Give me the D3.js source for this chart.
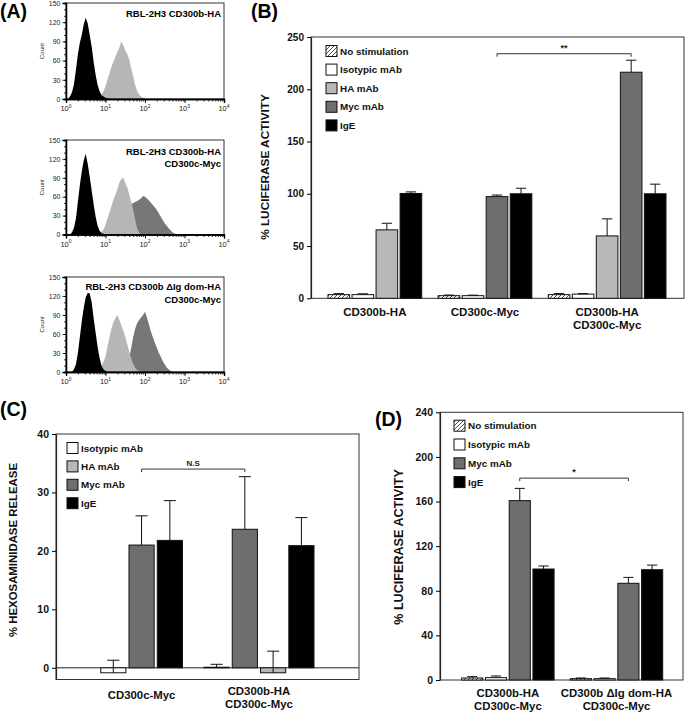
<!DOCTYPE html>
<html><head><meta charset="utf-8">
<script src="https://cdn.jsdelivr.net/npm/d3@7"></script>
<style>body{margin:0;background:#fff}svg{display:block}text{font-family:"Liberation Sans",Arial,Helvetica,sans-serif}</style>
</head><body><svg id="c" width="685" height="713"></svg>
<script>
// ---------------- DATA ----------------
// Panel A: flow cytometry histograms  [fluorescence, count]
const histTicks = [1, 10, 100, 1000, 10000];
const countTicks = [0, 30, 60, 90, 120, 150];
const h1Labels = ["RBL-2H3 CD300b-HA"];
const h2Labels = ["RBL-2H3 CD300b-HA", "CD300c-Myc"];
const h3Labels = ["RBL-2H3 CD300b \u0394Ig dom-HA", "CD300c-Myc"];

const h1Iso = [[1.12,0],[1.26,4],[1.41,10],[1.58,22],[1.78,45],[2.0,70],[2.24,88],[2.51,100],[2.82,117],[3.16,127],[3.55,118],[3.98,100],[4.47,82],[5.01,58],[5.62,38],[6.31,22],[7.08,12],[7.94,6],[8.91,4],[10,2],[11.2,1],[12.6,0]];
const h1HA = [[5.62,0],[6.31,2],[7.08,4],[7.94,7],[8.91,12],[10,20],[11.2,30],[12.6,40],[14.1,50],[15.8,58],[17.8,66],[20,74],[22.4,80],[25.1,90],[28.2,84],[31.6,76],[35.5,70],[39.8,62],[44.7,48],[50.1,36],[56.2,22],[63.1,13],[70.8,7],[79.4,4],[89.1,2],[100,1],[112,0]];

const h2Iso = [[1.26,0],[1.41,3],[1.58,10],[1.78,25],[2.0,52],[2.24,78],[2.51,100],[2.82,118],[3.16,128],[3.55,112],[3.98,92],[4.47,70],[5.01,48],[5.62,28],[6.31,14],[7.08,6],[7.94,2],[8.91,1],[10,0]];
const h2HA = [[6.31,0],[7.08,2],[7.94,4],[8.91,8],[10,15],[11.2,25],[12.6,35],[14.1,45],[15.8,55],[17.8,63],[20,72],[22.4,82],[25.1,88],[28.2,90],[31.6,82],[35.5,75],[39.8,64],[44.7,52],[50.1,40],[56.2,24],[63.1,10],[70.8,3],[79.4,0]];
const h2Myc = [[5.62,0],[6.31,2],[7.94,4],[10,8],[12.6,14],[15.8,20],[20,27],[25.1,34],[31.6,41],[39.8,46],[50.1,50],[63.1,53],[79.4,57],[89.1,61],[100,60],[112,57],[126,54],[158,47],[200,39],[251,28],[316,18],[398,10],[501,3],[631,0]];

const h3Iso = [[1.41,0],[1.58,4],[1.78,12],[2.0,30],[2.24,55],[2.51,80],[2.82,102],[3.16,118],[3.55,125],[3.98,124],[4.47,110],[5.01,85],[5.62,62],[6.31,40],[7.08,22],[7.94,10],[8.91,4],[10,2],[11.2,0]];
const h3HA = [[3.16,0],[3.98,2],[5.01,3],[6.31,5],[7.94,10],[8.91,16],[10,24],[11.2,40],[12.6,55],[14.1,68],[15.8,78],[17.8,85],[20,90],[22.4,82],[25.1,74],[28.2,65],[31.6,56],[35.5,44],[39.8,32],[44.7,22],[50.1,13],[56.2,7],[63.1,3],[70.8,1],[79.4,0]];
const h3Myc = [[8.91,0],[10,2],[14.1,3],[20,4],[25.1,6],[31.6,10],[35.5,15],[39.8,22],[44.7,38],[50.1,55],[56.2,68],[63.1,77],[70.8,82],[79.4,86],[89.1,90],[100,95],[112,86],[126,75],[141,64],[158,55],[178,46],[200,38],[224,30],[251,24],[282,17],[316,12],[355,7],[398,4],[447,2],[501,0]];

// Bar series
const seriesNames = ["No stimulation", "Isotypic mAb", "HA mAb", "Myc mAb", "IgE"];

// Panel B
const bCategories = [["CD300b-HA"], ["CD300c-Myc"], ["CD300b-HA", "CD300c-Myc"]];
const bNoStim = [3.5, 2.5, 3.5],   bNoStimErr = [1.0, 0.6, 1.0];
const bIso    = [3.5, 2.5, 4.0],   bIsoErr    = [0.8, 0.5, 0.5];
const bHA     = [65.5, null, 59.7], bHAErr    = [6.3, null, 16.3];
const bMyc    = [null, 97.3, 216.3], bMycErr  = [null, 1.5, 11.5];
const bIgE    = [100.3, 100, 100], bIgEErr    = [1.5, 5.3, 9.2];
const bTicks = [0, 50, 100, 150, 200, 250];
const bLegend = ["No stimulation", "Isotypic mAb", "HA mAb", "Myc mAb", "IgE"];
const bSignif = {label: "**", level: 234};

// Panel C
const cCategories = [["CD300c-Myc"], ["CD300b-HA", "CD300c-Myc"]];
const cOrder = [["Isotypic mAb", "Myc mAb", "IgE"], ["Isotypic mAb", "Myc mAb", "HA mAb", "IgE"]];
const cIso = [-0.85, 0.1],  cIsoErr = [2.15, 0.5];
const cHA  = [null, -0.85], cHAErr  = [null, 3.7];
const cMyc = [21.0, 23.7],  cMycErr = [5.0, 9.0];
const cIgE = [21.8, 20.9],  cIgEErr = [6.8, 4.8];
const cTicks = [0, 10, 20, 30, 40];
const cLegend = ["Isotypic mAb", "HA mAb", "Myc mAb", "IgE"];
const cSignif = {label: "N.S", level: 34};

// Panel D
const dCategories = [["CD300b-HA", "CD300c-Myc"], ["CD300b \u0394Ig dom-HA", "CD300c-Myc"]];
const dNoStim = [1.8, 1.2],   dNoStimErr = [1.2, 0.6];
const dIso    = [2.1, 1.2],   dIsoErr    = [1.5, 0.6];
const dMyc    = [160.8, 86.7], dMycErr   = [11.0, 5.3];
const dIgE    = [99.5, 98.9], dIgEErr    = [2.7, 4.1];
const dTicks = [0, 40, 80, 120, 160, 200, 240];
const dLegend = ["No stimulation", "Isotypic mAb", "Myc mAb", "IgE"];
const dSignif = {label: "*", level: 181};

// ---------------- STYLES ----------------
const svg = d3.select("#c");
const defs = svg.append("defs");
const pat = defs.append("pattern").attr("id", "hatch").attr("patternUnits", "userSpaceOnUse")
  .attr("width", 4).attr("height", 4);
pat.append("rect").attr("width", 4).attr("height", 4).attr("fill", "#fff");
pat.append("path").attr("d", "M-1,1 l2,-2 M0,4 l4,-4 M3,5 l2,-2").attr("stroke", "#222").attr("stroke-width", 0.8);

const fillOf = {"No stimulation": "url(#hatch)", "Isotypic mAb": "#ffffff", "HA mAb": "#b8b8b8", "Myc mAb": "#6e6e6e", "IgE": "#000000"};
const histCol = {iso: "#000000", ha: "#b6b6b6", myc: "#777777"};

// ---------------- PANEL LABELS ----------------
[["(A)", 0, 18], ["(B)", 251, 18], ["(C)", 0, 416], ["(D)", 375, 426]].forEach(([t, x, y]) => {
  svg.append("text").attr("x", x).attr("y", y).attr("font-size", 19.5).attr("font-weight", "bold").text(t);
});

// ---------------- HISTOGRAMS ----------------
function drawHist(c) {
  const L = 66, R = 224;
  const g = svg.append("g");
  const x = d3.scaleLog().domain([1, 10000]).range([L, R]);
  const y = d3.scaleLinear().domain([0, 150]).range([c.bottom, c.top]);
  const area = d3.area().x(d => x(d[0])).y0(y(0)).y1(d => y(d[1])).curve(d3.curveLinear);
  c.curves.forEach(cv => g.append("path").datum(cv.data).attr("d", area).attr("fill", cv.fill));
  g.append("rect").attr("x", L).attr("y", c.top).attr("width", R - L).attr("height", c.bottom - c.top)
    .attr("fill", "none").attr("stroke", "#000").attr("stroke-width", 0.8);
  // x axis
  const xMinor = g.append("g").attr("transform", `translate(0,${c.bottom})`)
    .call(d3.axisBottom(x).tickValues(x.ticks()).tickSize(2.5).tickFormat(""));
  const xMajor = g.append("g").attr("transform", `translate(0,${c.bottom})`)
    .call(d3.axisBottom(x).tickValues(histTicks).tickSize(4).tickFormat(""));
  [xMinor, xMajor].forEach(a => { a.select(".domain").attr("stroke-width", 1.3); a.selectAll("line").attr("stroke-width", 0.8); });
  histTicks.forEach(v => {
    const t = g.append("text").attr("x", x(v)).attr("y", c.bottom + 12).attr("text-anchor", "middle")
      .attr("font-size", 7.5).attr("fill", "#222");
    t.append("tspan").text("10");
    t.append("tspan").attr("dy", -3.5).attr("font-size", 5).text(String(Math.round(Math.log10(v))));
  });
  // y axis
  const yMinor = g.append("g").attr("transform", `translate(${L},0)`)
    .call(d3.axisLeft(y).ticks(15).tickSize(2).tickFormat(""));
  const yMajor = g.append("g").attr("transform", `translate(${L},0)`)
    .call(d3.axisLeft(y).tickValues(countTicks).tickSize(3.5).tickPadding(2));
  [yMinor, yMajor].forEach(a => { a.select(".domain").attr("stroke-width", 1.3); a.selectAll("line").attr("stroke-width", 0.8); });
  yMajor.selectAll("text").attr("font-size", 7).attr("font-family", '"Liberation Sans",Arial,sans-serif').attr("fill", "#222");
  g.append("text").attr("transform", `translate(44,${(c.top + c.bottom) / 2}) rotate(-90)`)
    .attr("text-anchor", "middle").attr("font-size", 6).attr("fill", "#222").text("Count");
  c.labels.forEach((t, i) => {
    g.append("text").attr("x", 221).attr("y", c.labelY[i]).attr("text-anchor", "end")
      .attr("dominant-baseline", "central").attr("font-size", 9.5).attr("font-weight", "bold").text(t);
  });
}

drawHist({top: 3, bottom: 99, labels: h1Labels, labelY: [13],
  curves: [{data: h1HA, fill: histCol.ha}, {data: h1Iso, fill: histCol.iso}]});
drawHist({top: 140, bottom: 234.5, labels: h2Labels, labelY: [151, 163.5],
  curves: [{data: h2Myc, fill: histCol.myc}, {data: h2HA, fill: histCol.ha}, {data: h2Iso, fill: histCol.iso}]});
drawHist({top: 277, bottom: 372, labels: h3Labels, labelY: [286.5, 299],
  curves: [{data: h3Myc, fill: histCol.myc}, {data: h3HA, fill: histCol.ha}, {data: h3Iso, fill: histCol.iso}]});

// ---------------- BAR PANELS ----------------
function buildGroups(cats, seriesMap, order) {
  return cats.map((cat, gi) => {
    const names = order ? order[gi] : seriesNames.filter(n => seriesMap[n] && seriesMap[n][0][gi] != null);
    return {cat, bars: names.map(n => ({name: n, value: seriesMap[n][0][gi], err: seriesMap[n][1][gi]}))};
  });
}

function drawBars(p) {
  const g = svg.append("g");
  const y = d3.scaleLinear().domain(p.yDomain).range([p.bottom, p.top]);
  let k = 0;
  p.groups.forEach((gr, gi) => gr.bars.forEach(b => { b.u = k + gi * p.gapU; k++; }));
  const span = (k - 1) + (p.groups.length - 1) * p.gapU + p.barFrac;
  const x = d3.scaleLinear().domain([0, span]).range([p.barStart, p.barEnd]);
  const bw = x(p.barFrac) - x(0);

  g.append("rect").attr("x", p.left).attr("y", p.top).attr("width", p.right - p.left).attr("height", p.bottom - p.top)
    .attr("fill", "#fff").attr("stroke", "#333").attr("stroke-width", 1);
  if (p.yDomain[0] < 0) {
    g.append("line").attr("x1", p.left).attr("x2", p.right).attr("y1", y(0)).attr("y2", y(0)).attr("stroke", "#222").attr("stroke-width", 1);
  }
  const ya = g.append("g").attr("transform", `translate(${p.left},0)`)
    .call(d3.axisLeft(y).tickValues(p.ticks).tickSize(4).tickSizeOuter(0).tickPadding(3));
  ya.select(".domain").attr("stroke", "#222").attr("stroke-width", 1.2);
  ya.selectAll("text").attr("font-size", p.tickSize).attr("font-weight", "bold")
    .attr("font-family", '"Liberation Sans",Arial,sans-serif').attr("fill", "#111");

  p.groups.forEach(gr => {
    gr.bars.forEach(b => {
      const x0 = x(b.u), cx = x0 + bw / 2;
      const yv = y(b.value), y0 = y(0);
      g.append("rect").attr("x", x0).attr("y", Math.min(yv, y0)).attr("width", bw)
        .attr("height", Math.max(Math.abs(y0 - yv), 0.5)).attr("fill", fillOf[b.name])
        .attr("stroke", "#111").attr("stroke-width", 1);
      const ye = y(b.value + b.err);
      g.append("line").attr("x1", cx).attr("x2", cx).attr("y1", yv).attr("y2", ye).attr("stroke", "#111").attr("stroke-width", 1);
      g.append("line").attr("x1", cx - bw * 0.24).attr("x2", cx + bw * 0.24).attr("y1", ye).attr("y2", ye).attr("stroke", "#111").attr("stroke-width", 1);
      b.cx = cx;
    });
    const first = gr.bars[0], last = gr.bars[gr.bars.length - 1];
    gr.center = (x(first.u) + x(last.u) + bw) / 2;
    gr.cat.forEach((t, i) => {
      g.append("text").attr("x", gr.center).attr("y", (gr.cat.length === 1 ? p.catY1 : p.catY2) + i * p.catDy)
        .attr("text-anchor", "middle").attr("dominant-baseline", "central")
        .attr("font-size", p.catSize).attr("font-weight", "bold").attr("fill", "#111").text(t);
    });
  });

  const mA = p.groups[p.sig.from].bars.find(b => b.name === "Myc mAb");
  const mB = p.groups[p.sig.to].bars.find(b => b.name === "Myc mAb");
  const yb = y(p.sig.level);
  g.append("path").attr("d", `M${mA.cx},${yb + 3}V${yb}H${mB.cx}V${yb + 3}`).attr("fill", "none")
    .attr("stroke", "#333").attr("stroke-width", 1);
  g.append("text").attr("x", (mA.cx + mB.cx) / 2).attr("y", yb - 3).attr("text-anchor", "middle")
    .attr("font-size", p.sigSize).attr("font-weight", "bold").attr("fill", "#222").text(p.sig.label);

  p.legend.names.forEach((n, i) => {
    const cy = p.legend.y0 + i * p.legend.dy;
    g.append("rect").attr("x", p.legend.x).attr("y", cy - 5.5).attr("width", 11).attr("height", 11)
      .attr("fill", fillOf[n]).attr("stroke", "#111").attr("stroke-width", 1);
    g.append("text").attr("x", p.legend.x + 14).attr("y", cy).attr("dominant-baseline", "central")
      .attr("font-size", 9.9).attr("font-weight", "bold").attr("fill", "#111").text(n);
  });

  g.append("text").attr("transform", `translate(${p.title.x},${p.title.y}) rotate(-90)`)
    .attr("text-anchor", "middle").attr("dominant-baseline", "central")
    .attr("font-size", p.title.size).attr("font-weight", "bold").attr("fill", "#111").text(p.title.text);
}

drawBars({
  left: 311, right: 684, top: 37, bottom: 298.3, yDomain: [0, 250], ticks: bTicks, tickSize: 10,
  barStart: 328, barEnd: 666, barFrac: 0.9, gapU: 0.583,
  groups: buildGroups(bCategories, {"No stimulation": [bNoStim, bNoStimErr], "Isotypic mAb": [bIso, bIsoErr],
    "HA mAb": [bHA, bHAErr], "Myc mAb": [bMyc, bMycErr], "IgE": [bIgE, bIgEErr]}),
  catY1: 312, catY2: 312, catDy: 12.5, catSize: 11.5,
  sig: {from: 1, to: 2, level: bSignif.level, label: bSignif.label}, sigSize: 9,
  legend: {x: 326, y0: 51, dy: 18.6, names: bLegend},
  title: {text: "% LUCIFERASE ACTIVITY", x: 265, y: 167, size: 11.8}
});

drawBars({
  left: 56, right: 359, top: 434, bottom: 679.5, yDomain: [-2, 40], ticks: cTicks, tickSize: 10.5,
  barStart: 100.7, barEnd: 314, barFrac: 0.89, gapU: 0.65,
  groups: buildGroups(cCategories, {"Isotypic mAb": [cIso, cIsoErr], "HA mAb": [cHA, cHAErr],
    "Myc mAb": [cMyc, cMycErr], "IgE": [cIgE, cIgEErr]}, cOrder),
  catY1: 695, catY2: 691, catDy: 13, catSize: 11.4,
  sig: {from: 0, to: 1, level: cSignif.level, label: cSignif.label}, sigSize: 8,
  legend: {x: 67, y0: 448, dy: 18.4, names: cLegend},
  title: {text: "% HEXOSAMINIDASE RELEASE", x: 13, y: 550, size: 11.4}
});

drawBars({
  left: 440, right: 683, top: 412.3, bottom: 680, yDomain: [0, 240], ticks: dTicks, tickSize: 10.5,
  barStart: 461.7, barEnd: 662.7, barFrac: 0.89, gapU: 0.574,
  groups: buildGroups(dCategories, {"No stimulation": [dNoStim, dNoStimErr], "Isotypic mAb": [dIso, dIsoErr],
    "Myc mAb": [dMyc, dMycErr], "IgE": [dIgE, dIgEErr]}),
  catY1: 693, catY2: 693, catDy: 13, catSize: 11.4,
  sig: {from: 0, to: 1, level: dSignif.level, label: dSignif.label}, sigSize: 9,
  legend: {x: 454, y0: 425.7, dy: 18.8, names: dLegend},
  title: {text: "% LUCIFERASE ACTIVITY", x: 399, y: 547, size: 12.6}
});
</script></body></html>
